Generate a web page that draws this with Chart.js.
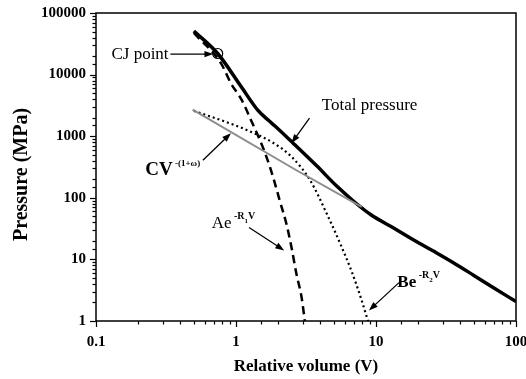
<!DOCTYPE html>
<html>
<head>
<meta charset="utf-8">
<script src="https://cdn.jsdelivr.net/npm/chart.js@4/dist/chart.umd.min.js"></script>
<style>
  html, body { margin: 0; padding: 0; background: #fff; overflow: hidden; }
  #chart { display: block; }
</style>
</head>
<body>
<canvas id="chart" width="526" height="379"></canvas>
<script>
// Values (relative volume V, pressure MPa)
const totalV = [0.5, 0.74, 1.09, 1.43, 1.72, 1.89, 2.56, 3.77, 5.24, 6.92, 9.2, 13.0, 18.2, 25.3, 35.2, 50, 70, 100];
const totalP = [51000, 22000, 6340, 2650, 1780, 1475, 770, 330, 155, 88, 53, 33.5, 21.3, 13.9, 9.0, 5.5, 3.4, 2.07];

const aV = [0.5, 0.78, 0.92, 1.1, 1.28, 1.47, 1.64, 1.84, 2.05, 2.29, 2.49, 2.7, 2.94, 3.1];
const aP = [47300, 15400, 7200, 3850, 1820, 900, 480, 218, 91, 38, 15.8, 5.85, 2.44, 1.0];

const bV = [0.5, 0.98, 1.37, 1.8, 2.5, 3.38, 4.47, 5.62, 6.74, 7.82, 8.77];
const bP = [2580, 1510, 1100, 807, 461, 193, 54, 16.9, 6.15, 2.32, 1.0];

const cV = [0.49, 2.7, 7.9];
const cP = [2700, 280, 71];

const cjV = [0.74];
const cjP = [22000];

const xTickValues = [0.1, 1, 10, 100];
const xTickLabels = ['0.1', '1', '10', '100'];
const yTickValues = [1, 10, 100, 1000, 10000, 100000];
const yTickLabels = ['1', '10', '100', '1000', '10000', '100000'];

const serif = "'Liberation Serif', 'Times New Roman', serif";

// text labels with arrows, anchored in data units
const notes = [
    { parts: [['CJ point', '17px', 0]], at: [0.33, 21500], align: 'right', base: 'middle',
      arrow: [0.34, 21500, 0.69, 21500] },
    { parts: [['Total pressure', '17px', 0]], at: [4.1, 3190], align: 'left', base: 'middle',
      arrow: [3.35, 1960, 2.49, 770] },
    { parts: [['CV', 'bold 19px', 0], [' -(1+\u03c9)', 'bold 9px', -9]], at: [0.225, 232], align: 'left', base: 'alphabetic',
      arrow: [0.58, 408, 0.92, 1120] },
    { parts: [['Ae', '17px', 0], [' -R', 'bold 10px', -9], ['1', 'bold 7px', -5], ['V', 'bold 10px', -9]], at: [0.67, 32], align: 'left', base: 'alphabetic',
      arrow: [1.24, 33, 2.21, 14] },
    { parts: [['Be', 'bold 17px', 0], [' -R', 'bold 10px', -9], ['2', 'bold 7px', -5], ['V', 'bold 10px', -9]], at: [14.2, 3.5], align: 'left', base: 'alphabetic',
      arrow: [14.6, 4.2, 8.9, 1.48] }
];

function toPoints(xs, ys) {
    return xs.map((v, i) => ({ x: v, y: ys[i] }));
}

function labelFor(values, labels) {
    return function(value) {
        for (let i = 0; i < values.length; i++) {
            if (Math.abs(value - values[i]) < values[i] * 1e-6) return labels[i];
        }
        return '';
    };
}

function isDecade(v) {
    const l = Math.log10(v);
    return Math.abs(l - Math.round(l)) < 1e-6;
}

function noOverflow(scale) {
    scale.paddingLeft = 0;
    scale.paddingRight = 0;
    scale.paddingTop = 0;
    scale.paddingBottom = 0;
}

function drawArrow(ctx, x1, y1, x2, y2) {
    const ang = Math.atan2(y2 - y1, x2 - x1);
    const len = 9, half = 3.2;
    ctx.beginPath();
    ctx.moveTo(x1, y1);
    ctx.lineTo(x2 - Math.cos(ang) * len * 0.8, y2 - Math.sin(ang) * len * 0.8);
    ctx.stroke();
    ctx.beginPath();
    ctx.moveTo(x2, y2);
    ctx.lineTo(x2 - Math.cos(ang) * len - Math.sin(ang) * half, y2 - Math.sin(ang) * len + Math.cos(ang) * half);
    ctx.lineTo(x2 - Math.cos(ang) * len + Math.sin(ang) * half, y2 - Math.sin(ang) * len - Math.cos(ang) * half);
    ctx.closePath();
    ctx.fill();
}

// frame, outward tick marks, annotations
const decorPlugin = {
    id: 'decor',
    afterDraw(chart) {
        const ctx = chart.ctx;
        const area = chart.chartArea;
        const xs = chart.scales.x;
        const ys = chart.scales.y;
        ctx.save();
        ctx.strokeStyle = '#000';
        ctx.fillStyle = '#000';
        ctx.lineWidth = 1.5;
        ctx.strokeRect(area.left, area.top, area.right - area.left, area.bottom - area.top);

        ctx.lineWidth = 1.2;
        xs.ticks.forEach(t => {
            const px = Math.round(xs.getPixelForValue(t.value)) + 0.5;
            const len = isDecade(t.value) ? 6 : 3.5;
            ctx.beginPath();
            ctx.moveTo(px, area.bottom);
            ctx.lineTo(px, area.bottom + len);
            ctx.stroke();
        });
        ys.ticks.forEach(t => {
            const py = Math.round(ys.getPixelForValue(t.value)) + 0.5;
            const len = isDecade(t.value) ? 6 : 3.5;
            ctx.beginPath();
            ctx.moveTo(area.left, py);
            ctx.lineTo(area.left - len, py);
            ctx.stroke();
        });

        notes.forEach(n => {
            ctx.lineWidth = 1.3;
            const a = n.arrow;
            drawArrow(ctx, xs.getPixelForValue(a[0]), ys.getPixelForValue(a[1]),
                xs.getPixelForValue(a[2]), ys.getPixelForValue(a[3]));

            let x = xs.getPixelForValue(n.at[0]);
            const y = ys.getPixelForValue(n.at[1]);
            ctx.textBaseline = n.base;
            ctx.textAlign = 'left';
            if (n.align === 'right') {
                let w = 0;
                n.parts.forEach(p => { ctx.font = p[1] + ' ' + serif; w += ctx.measureText(p[0]).width; });
                x -= w;
            }
            n.parts.forEach(p => {
                ctx.font = p[1] + ' ' + serif;
                ctx.fillText(p[0], x, y + p[2]);
                x += ctx.measureText(p[0]).width;
            });
        });
        ctx.restore();
    }
};

Chart.defaults.font.family = serif;
Chart.defaults.color = '#000';

const ctx = document.getElementById('chart').getContext('2d');
const chart = new Chart(ctx, {
    type: 'scatter',
    data: {
        datasets: [
            {
                data: toPoints(cV, cP),
                showLine: true,
                borderColor: '#8c8c8c',
                borderWidth: 2,
                pointRadius: 0
            },
            {
                data: toPoints(bV, bP),
                showLine: true,
                borderColor: '#000',
                borderWidth: 2.2,
                borderDash: [2, 3],
                cubicInterpolationMode: 'monotone',
                pointRadius: 0
            },
            {
                data: toPoints(aV, aP),
                showLine: true,
                borderColor: '#000',
                borderWidth: 2.5,
                borderDash: [8, 5],
                cubicInterpolationMode: 'monotone',
                pointRadius: 0
            },
            {
                data: toPoints(totalV, totalP),
                showLine: true,
                borderColor: '#000',
                borderWidth: 3.5,
                cubicInterpolationMode: 'monotone',
                pointRadius: 0
            },
            {
                data: toPoints(cjV, cjP),
                showLine: false,
                pointRadius: 5,
                pointBackgroundColor: '#fff',
                pointBorderColor: '#000',
                pointBorderWidth: 1.2
            }
        ]
    },
    options: {
        responsive: false,
        animation: false,
        devicePixelRatio: 1,
        layout: { padding: { top: 13, right: 10, left: 0, bottom: 0 } },
        plugins: {
            legend: { display: false },
            tooltip: { enabled: false }
        },
        scales: {
            x: {
                type: 'logarithmic',
                position: 'bottom',
                min: 0.1,
                max: 100,
                grid: { display: false, drawTicks: false },
                border: { display: false },
                ticks: {
                    autoSkip: false,
                    maxRotation: 0,
                    padding: 12,
                    font: { size: 15, weight: 'bold' },
                    callback: labelFor(xTickValues, xTickLabels)
                },
                title: {
                    display: true,
                    text: 'Relative volume (V)',
                    font: { size: 17, weight: 'bold' },
                    padding: { top: 0, bottom: 2 }
                },
                afterFit(scale) { scale.height = 58; noOverflow(scale); }
            },
            y: {
                type: 'logarithmic',
                position: 'left',
                min: 1,
                max: 100000,
                grid: { display: false, drawTicks: false },
                border: { display: false },
                ticks: {
                    autoSkip: false,
                    padding: 10,
                    font: { size: 15, weight: 'bold' },
                    callback: labelFor(yTickValues, yTickLabels)
                },
                title: {
                    display: true,
                    // trailing spaces push the rotated title a little lower, as in the original
                    text: 'Pressure (MPa)   ',
                    font: { size: 20, weight: 'bold' },
                    padding: { top: 10, bottom: 0 }
                },
                afterFit(scale) { scale.width = 96; noOverflow(scale); }
            }
        }
    },
    plugins: [decorPlugin]
});
</script>
</body>
</html>
